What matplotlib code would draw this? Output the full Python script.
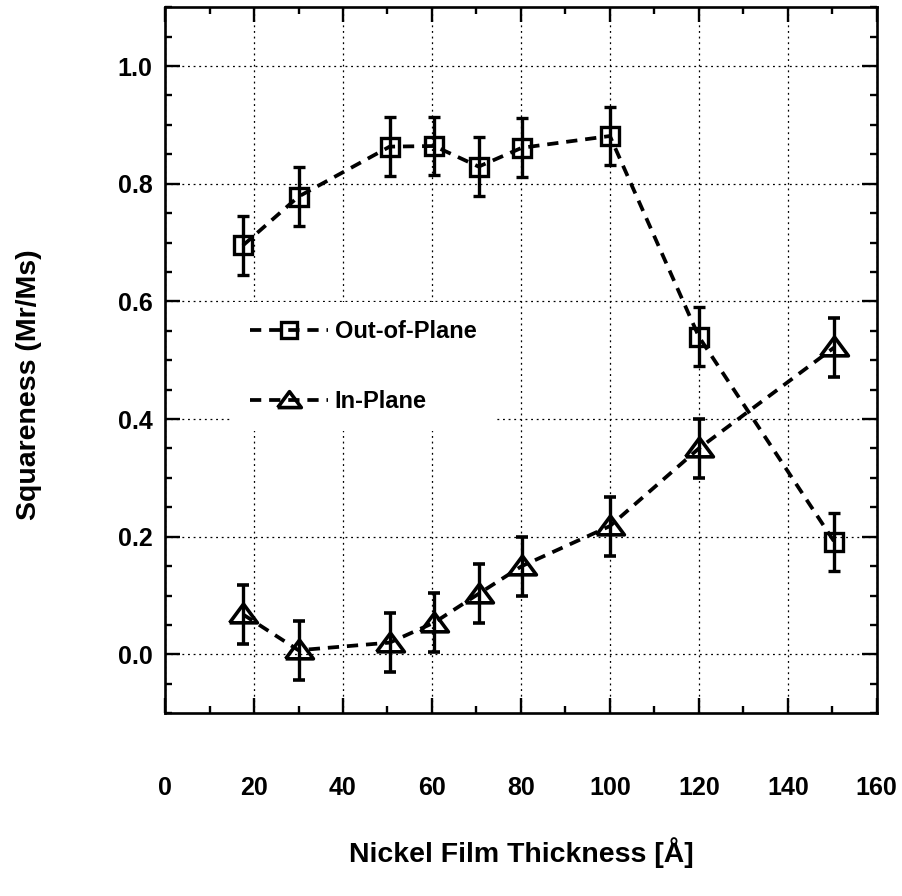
import matplotlib
matplotlib.use("Agg")
import matplotlib.pyplot as plt
from matplotlib.ticker import MultipleLocator

plt.rcParams['font.family'] = ['Liberation Sans', 'DejaVu Sans']
plt.rcParams['font.weight'] = 'bold'

# data
thickness = [17.5, 30, 50.5, 60.5, 70.5, 80.2, 100, 120, 150.5]
out_of_plane = [0.695, 0.778, 0.863, 0.864, 0.829, 0.861, 0.881, 0.540, 0.191]
out_err = [0.05, 0.05, 0.05, 0.05, 0.05, 0.05, 0.05, 0.05, 0.05]
in_plane = [0.068, 0.007, 0.020, 0.054, 0.103, 0.150, 0.218, 0.350, 0.522]
in_err = [0.05, 0.05, 0.05, 0.05, 0.05, 0.05, 0.05, 0.05, 0.05]

x_ticks = [0, 20, 40, 60, 80, 100, 120, 140, 160]
y_ticks = [0.0, 0.2, 0.4, 0.6, 0.8, 1.0]

fig = plt.figure(figsize=(9.02, 8.96), dpi=100)
ax = fig.add_axes([0.183, 0.204, 0.789, 0.788])

tri = [(-1, -0.6), (1, -0.6), (0, 0.75), (-1, -0.6)]
dash = (0, (3.0, 2.1))

eb1 = ax.errorbar(thickness, out_of_plane, yerr=out_err, color='black', ls=dash, lw=2.7,
                  marker='s', ms=13, mfc='none', mec='black', mew=2.4,
                  ecolor='black', elinewidth=2.4, capsize=4.2, capthick=2.4, zorder=3)
eb2 = ax.errorbar(thickness, in_plane, yerr=in_err, color='black', ls=dash, lw=2.7,
                  marker=tri, ms=20, mfc='none', mec='black', mew=2.6,
                  ecolor='black', elinewidth=2.4, capsize=4.2, capthick=2.4, zorder=3)

ax.set_xlim(0, 160)
ax.set_ylim(-0.1, 1.1)
ax.set_xticks(x_ticks)
ax.set_yticks(y_ticks)
ax.set_yticklabels(['%.1f' % v for v in y_ticks])
ax.xaxis.set_minor_locator(MultipleLocator(10))
ax.yaxis.set_minor_locator(MultipleLocator(0.05))

ax.grid(True, which='major', color='black', ls=(0, (1.5, 3)), lw=0.9)
ax.tick_params(which='both', direction='in', top=True, right=True, width=1.7)
ax.tick_params(which='major', length=11, labelsize=18)
ax.tick_params(which='minor', length=5)
ax.tick_params(axis='x', which='major', pad=45)
ax.tick_params(axis='y', which='major', pad=9)
for s in ax.spines.values():
    s.set_linewidth(1.9)

ax.set_xlabel('Nickel Film Thickness [Å]', fontsize=20.5, fontweight='bold')
ax.xaxis.set_label_coords(0.5, -0.176)
ax.set_ylabel('Squareness (Mr/Ms)', fontsize=20.5, fontweight='bold')
ax.yaxis.set_label_coords(-0.173, 0.465)

leg = ax.legend([eb1.lines[0], eb2.lines[0]], ['Out-of-Plane', 'In-Plane'],
                loc='upper left', bbox_to_anchor=(0.094, 0.582), frameon=True,
                fancybox=False, edgecolor='none', facecolor='white', framealpha=1,
                fontsize=17, labelspacing=2.0, handlelength=3.3, handletextpad=0.3,
                markerscale=0.85, borderpad=0.75, borderaxespad=0)
for t in leg.get_texts():
    t.set_fontweight('bold')

fig.savefig('out.png', dpi=100)
